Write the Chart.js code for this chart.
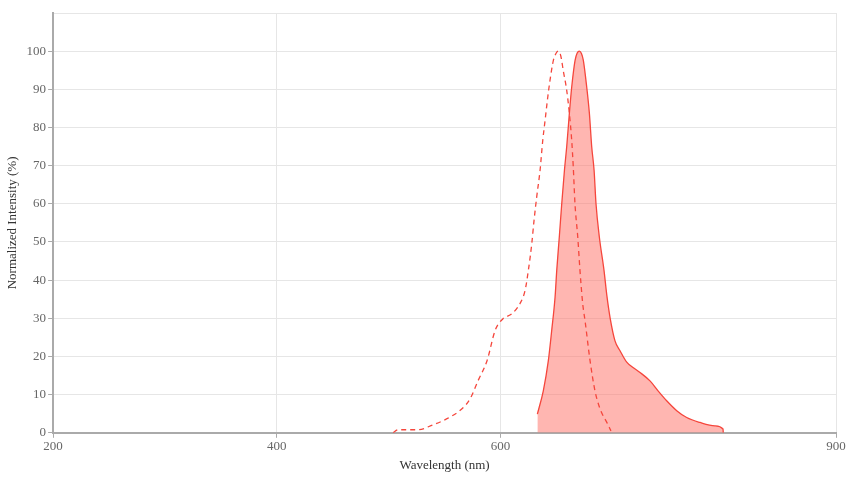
<!DOCTYPE html>
<html>
<head>
<meta charset="utf-8">
<script src="https://cdn.jsdelivr.net/npm/chart.js@4"></script>
<style>
html,body{margin:0;padding:0;background:#fff;}
#wrap{width:850px;height:477px;}
</style>
</head>
<body>
<div id="wrap"><canvas id="c" width="850" height="477"></canvas></div>
<script>
const exWavelength = [504, 508.4, 526.3, 539.7, 552.2, 565.6, 572.8, 579.9, 588.0, 595.2, 602.3, 610.3, 617.5, 622.0, 624.9, 628.0, 630.0, 632.4, 635.4, 637.8, 639.9, 642.3, 644.3, 647.3, 649.6, 651.7, 653.9, 656.2, 659.2, 661.6, 663.7, 665.1, 666.6, 669.1, 671.1, 673.5, 675.6, 680.1, 684.5, 689.0, 695.3, 698.8];
const exIntensity  = [0, 0.8, 0.8, 2.1, 3.7, 6.3, 8.9, 13.6, 18.9, 26.8, 29.9, 31.2, 33.9, 37.3, 42.5, 49.6, 55.6, 61.8, 68.8, 76.6, 81.9, 88.0, 92.4, 97.6, 99.4, 100, 98.8, 94.8, 89.8, 83.7, 76.6, 69.6, 60.1, 51.3, 42.5, 33.9, 29.4, 18.9, 11.0, 6.3, 2.6, 0.5];

const emWavelength = [633.0, 638.3, 642.8, 645.8, 648.8, 650.3, 652.6, 654.8, 657.2, 659.2, 661.6, 663.7, 666.7, 668.6, 670.5, 672.4, 674.1, 677.1, 679.5, 681.6, 683.7, 685.4, 688.4, 692.6, 695.1, 698.1, 702.4, 706.9, 712.9, 718.5, 724.8, 733.7, 740.9, 748.6, 757.6, 766.5, 778.4, 791.8, 799.0, 799.2];
const emIntensity  = [4.9, 11.0, 18.9, 26.8, 35.5, 42.5, 51.3, 60.1, 68.8, 74.9, 83.7, 90.6, 97.6, 99.5, 100, 99.4, 97.6, 90.6, 83.7, 74.9, 68.8, 60.1, 51.3, 42.5, 36.0, 30.0, 24.1, 21.5, 18.5, 17.1, 15.8, 13.6, 11.0, 8.4, 5.8, 4.0, 2.7, 1.8, 1.0, 0];

const xTicks = [200, 400, 600, 900];
const yTicks = [0, 10, 20, 30, 40, 50, 60, 70, 80, 90, 100, 110];
const xTitle = 'Wavelength (nm)';
const yTitle = 'Normalized Intensity (%)';

const toXY = (xs, ys) => xs.map((x, i) => ({x: x, y: ys[i]}));
const FONT = '"Liberation Serif", "Times New Roman", serif';

new Chart(document.getElementById('c'), {
  type: 'line',
  data: {
    datasets: [
      {
        label: 'Excitation',
        data: toXY(exWavelength, exIntensity),
        borderColor: 'rgb(245,70,60)',
        borderWidth: 1.3,
        borderDash: [5, 4],
        pointRadius: 0,
        fill: false,
        cubicInterpolationMode: 'monotone'
      },
      {
        label: 'Emission',
        data: toXY(emWavelength, emIntensity),
        borderColor: 'rgb(245,70,60)',
        backgroundColor: 'rgba(255,110,100,0.5)',
        borderWidth: 1.3,
        pointRadius: 0,
        fill: 'origin',
        cubicInterpolationMode: 'monotone'
      }
    ]
  },
  options: {
    responsive: false,
    devicePixelRatio: 1,
    animation: false,
    layout: {padding: {left: 5, right: 14, top: 13, bottom: 4}},
    plugins: {legend: {display: false}, tooltip: {enabled: false}},
    scales: {
      x: {
        type: 'linear',
        min: 200,
        max: 900,
        afterBuildTicks: (axis) => { axis.ticks = xTicks.map(v => ({value: v})); },
        grid: {color: '#e6e6e6', lineWidth: 1, tickColor: '#aaa', tickLength: 5},
        border: {color: '#aaa', width: 2},
        ticks: {color: '#666', font: {family: FONT, size: 13}, padding: 1, maxRotation: 0, autoSkip: false},
        title: {display: true, text: xTitle, color: '#333', font: {family: FONT, size: 13}, padding: {top: 2, bottom: 0}}
      },
      y: {
        type: 'linear',
        min: 0,
        max: 110,
        afterBuildTicks: (axis) => { axis.ticks = yTicks.map(v => ({value: v})); },
        grid: {color: '#e6e6e6', lineWidth: 1, tickLength: 5,
               tickColor: (ctx) => (ctx.tick && ctx.tick.value === 110) ? 'rgba(0,0,0,0)' : '#aaa'},
        border: {color: '#aaa', width: 2},
        ticks: {color: '#666', font: {family: FONT, size: 13}, padding: 2,
                callback: (v) => v === 110 ? '' : v},
        title: {display: true, text: yTitle, color: '#333', font: {family: FONT, size: 13}, padding: {top: 0, bottom: 4}}
      }
    }
  }
});
</script>
</body>
</html>
